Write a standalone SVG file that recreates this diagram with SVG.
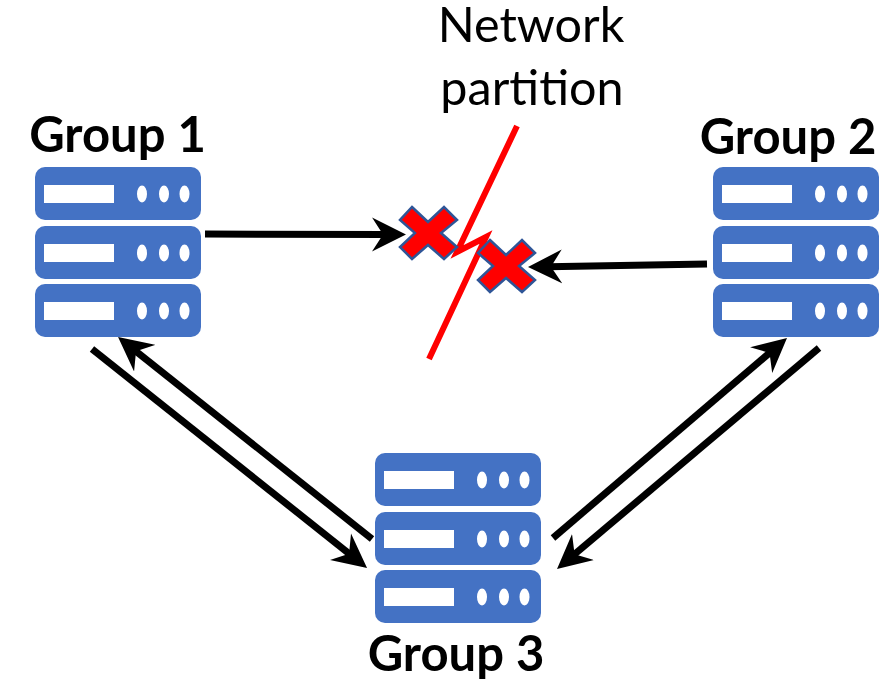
<svg xmlns="http://www.w3.org/2000/svg" xmlns:xlink="http://www.w3.org/1999/xlink" width="889" height="680" viewBox="0 0 889 680">
<style>
text{font-family:Lato,"Liberation Sans",sans-serif;fill:#000}
.g{font-size:49px;font-weight:700}
.n{font-size:48.500px}
.r{fill:#4472c4}
.w{fill:#fff}
.c{fill:none;stroke:#000;stroke-width:7}
.x{fill:#f00;stroke:#2f5597;stroke-width:2.500}
</style>
<defs>
<marker id="a" markerUnits="userSpaceOnUse" markerWidth="36" markerHeight="36" refX="14" refY="18" orient="auto">
<path d="M0 1 L34 18 L0 35 L11 18 Z" fill="#000"/>
</marker>
<g id="row">
<rect class="r" x="0" y="0" width="166" height="53" rx="10"/>
<rect class="w" x="9" y="18" width="70" height="18"/>
<ellipse class="w" cx="107" cy="27" rx="5" ry="8.500"/>
<ellipse class="w" cx="129" cy="27" rx="5" ry="8.500"/>
<ellipse class="w" cx="149.500" cy="27" rx="5" ry="8.500"/>
</g>
<g id="srv">
<use xlink:href="#row" href="#row" y="0"/>
<use xlink:href="#row" href="#row" y="59"/>
<use xlink:href="#row" href="#row" y="117"/>
</g>
<polygon id="cross" class="x" points="-16,-26 0,-11 16,-26 29,-13 13,0 29,14 16,26 0,12 -16,26 -28,14 -13,0 -28,-13"/>
</defs>
<g id="connectors">
<path class="c" d="M205 234 L386 234.500" marker-end="url(#a)"/>
<path class="c" d="M707 264 L548 266.700" marker-end="url(#a)"/>
<path class="c" d="M92 349 L351.400 555.500" marker-end="url(#a)"/>
<path class="c" d="M372 539 L133.700 349.400" marker-end="url(#a)"/>
<path class="c" d="M553 538 L771.800 351" marker-end="url(#a)"/>
<path class="c" d="M819 348 L572.300 556.100" marker-end="url(#a)"/>
</g>
<g id="group1"><use xlink:href="#srv" href="#srv" x="35" y="167"/><text class="g" x="117.500" y="152" text-anchor="middle">Group 1</text></g>
<g id="group2"><use xlink:href="#srv" href="#srv" x="713" y="167"/><text class="g" x="788" y="154" text-anchor="middle">Group 2</text></g>
<g id="group3"><use xlink:href="#srv" href="#srv" x="375" y="453"/><text class="g" x="456" y="671" text-anchor="middle">Group 3</text></g>
<g id="partition">
<path d="M517 126 L457 252 L486 237 L429 359" fill="none" stroke="#f00" stroke-width="6"/>
<use xlink:href="#cross" href="#cross" x="428" y="233"/>
<use xlink:href="#cross" href="#cross" x="506" y="266"/>
<text class="n" x="531" y="42" text-anchor="middle">Network</text>
<text class="n" x="532" y="105" text-anchor="middle">partition</text>
</g>
</svg>
